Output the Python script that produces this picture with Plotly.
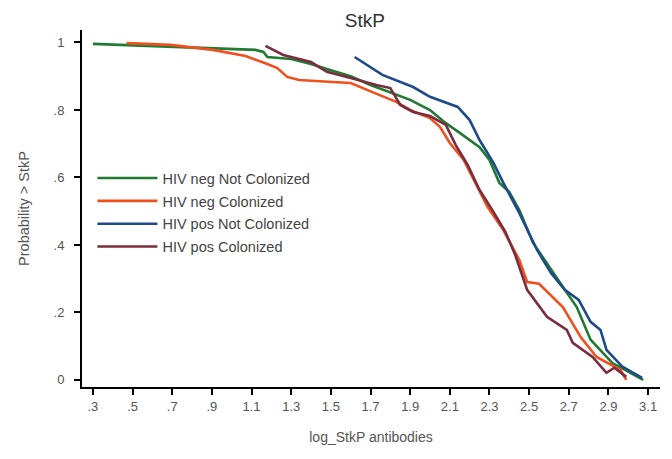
import plotly.graph_objects as go

# HIV neg Not Colonized
neg_nc_x = [0.30, 0.59, 0.89, 1.12, 1.16, 1.18, 1.30, 1.40, 1.50, 1.60, 1.70, 1.80, 1.90, 2.00, 2.08, 2.15, 2.25, 2.30, 2.35, 2.40, 2.45, 2.52, 2.61, 2.68, 2.74, 2.81, 2.92, 3.075]
neg_nc_y = [0.996, 0.99, 0.984, 0.978, 0.972, 0.957, 0.951, 0.936, 0.918, 0.90, 0.874, 0.853, 0.83, 0.80, 0.761, 0.732, 0.69, 0.652, 0.584, 0.557, 0.504, 0.406, 0.326, 0.267, 0.216, 0.119, 0.05, 0.0]

# HIV neg Colonized
neg_c_x = [0.47, 0.69, 0.905, 1.07, 1.18, 1.23, 1.28, 1.34, 1.51, 1.60, 1.71, 1.83, 1.90, 2.00, 2.05, 2.10, 2.17, 2.24, 2.29, 2.37, 2.45, 2.49, 2.55, 2.67, 2.76, 2.84, 2.96, 2.99]
neg_c_y = [0.998, 0.993, 0.978, 0.96, 0.936, 0.924, 0.898, 0.889, 0.883, 0.88, 0.853, 0.824, 0.80, 0.776, 0.75, 0.702, 0.652, 0.572, 0.513, 0.444, 0.356, 0.29, 0.285, 0.216, 0.127, 0.068, 0.03, 0.0]

# HIV pos Not Colonized
pos_nc_x = [1.62, 1.76, 1.915, 2.00, 2.14, 2.20, 2.25, 2.32, 2.37, 2.45, 2.54, 2.61, 2.68, 2.75, 2.81, 2.86, 2.89, 2.97, 3.07]
pos_nc_y = [0.957, 0.904, 0.868, 0.839, 0.809, 0.77, 0.711, 0.643, 0.584, 0.495, 0.385, 0.317, 0.267, 0.237, 0.172, 0.148, 0.089, 0.039, 0.006]

# HIV pos Colonized
pos_c_x = [1.17, 1.26, 1.40, 1.48, 1.60, 1.73, 1.80, 1.85, 1.915, 2.00, 2.08, 2.13, 2.19, 2.25, 2.32, 2.38, 2.43, 2.49, 2.59, 2.69, 2.72, 2.82, 2.89, 2.93, 2.99]
pos_c_y = [0.99, 0.963, 0.942, 0.913, 0.895, 0.874, 0.865, 0.815, 0.794, 0.782, 0.756, 0.696, 0.637, 0.563, 0.498, 0.439, 0.37, 0.267, 0.187, 0.148, 0.11, 0.068, 0.021, 0.036, 0.009]

x_tickvals = [0.3, 0.5, 0.7, 0.9, 1.1, 1.3, 1.5, 1.7, 1.9, 2.1, 2.3, 2.5, 2.7, 2.9, 3.1]
x_ticktext = [".3", ".5", ".7", ".9", "1.1", "1.3", "1.5", "1.7", "1.9", "2.1", "2.3", "2.5", "2.7", "2.9", "3.1"]
y_tickvals = [0, 0.2, 0.4, 0.6, 0.8, 1.0]
y_ticktext = ["0", ".2", ".4", ".6", ".8", "1"]

series = [
    ("HIV neg Not Colonized", neg_nc_x, neg_nc_y, "#1f7a32"),
    ("HIV neg Colonized", neg_c_x, neg_c_y, "#f0501e"),
    ("HIV pos Not Colonized", pos_nc_x, pos_nc_y, "#1d4b88"),
    ("HIV pos Colonized", pos_c_x, pos_c_y, "#7b2c3e"),
]

fig = go.Figure()
for i, (name, xs, ys, col) in enumerate(series):
    fig.add_trace(go.Scatter(x=xs, y=ys, mode="lines", name=name, legendgroup=f"g{i}",
                             line=dict(color=col, width=2.6)))

font_family = "Liberation Sans, Arial, sans-serif"
fig.update_layout(
    width=672, height=459,
    margin=dict(l=82, r=12, t=30, b=72),
    paper_bgcolor="white", plot_bgcolor="white",
    font=dict(family=font_family, color="#555555", size=13),
    title=dict(text="StkP", x=0.543, xanchor="center", y=0.955, yanchor="middle",
               font=dict(size=19, color="#333333")),
    showlegend=True,
    legend=dict(x=0.018, y=0.63, xanchor="left", yanchor="top",
                bgcolor="rgba(0,0,0,0)", font=dict(size=14.5, color="#444444"),
                itemwidth=60, tracegroupgap=1, traceorder="grouped"),
    xaxis=dict(range=[0.245, 3.16], tickvals=x_tickvals, ticktext=x_ticktext,
               showgrid=False, zeroline=False, showline=True, linecolor="black",
               linewidth=2, ticks="outside", ticklen=6, tickwidth=2, tickcolor="black",
               tickfont=dict(size=13, color="#555555"),
               title=dict(text="log_StkP antibodies", font=dict(size=14, color="#555555"), standoff=20)),
    yaxis=dict(range=[-0.021, 1.037], tickvals=y_tickvals, ticktext=y_ticktext,
               showgrid=False, zeroline=False, showline=True, linecolor="black",
               linewidth=2, ticks="outside", ticklen=6, tickwidth=2, tickcolor="black",
               tickfont=dict(size=13, color="#555555"), ticklabelstandoff=7,
               title=dict(text="Probability > StkP", font=dict(size=14.5, color="#555555"), standoff=20)),
)

fig.write_html("out.html")
